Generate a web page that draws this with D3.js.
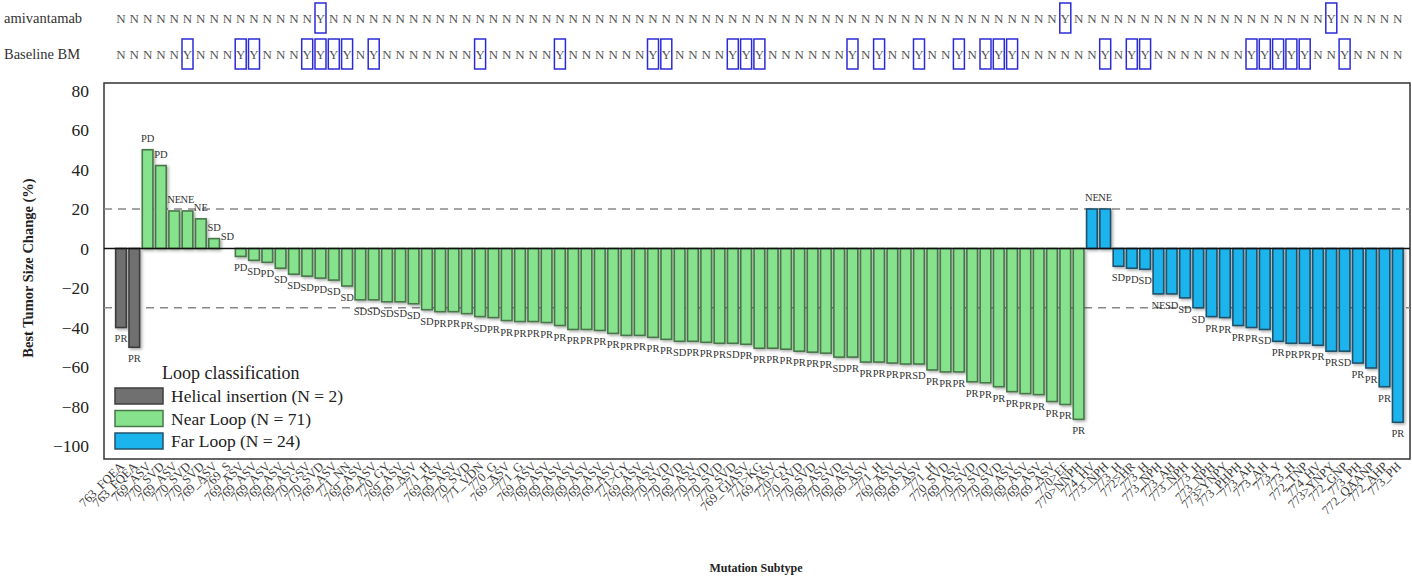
<!DOCTYPE html>
<html>
<head>
<meta charset="utf-8">
<script src="https://cdn.jsdelivr.net/npm/d3@7"></script>
<style>
  body { margin: 0; background: #fff; }
  svg { display: block; }
</style>
</head>
<body>
<svg id="chart" width="1412" height="584"></svg>
<script>
// Best tumour size change (%) per patient, grouped by loop classification
const helicalValues = [-40, -50];
const nearValues = [
  50, 42, 19, 19, 15, 5, 0, -4, -6, -7,
  -10, -13, -14, -15, -16, -19, -26, -26, -27, -27,
  -28, -31, -32, -32, -33, -34.5, -35, -36.5, -37, -37,
  -37.5, -39, -41, -41, -41.5, -43, -44, -44, -45, -46,
  -47, -47, -47.5, -48, -48, -48.5, -50.5, -50.5, -51, -52,
  -52.5, -53, -55, -55, -57.5, -57.5, -58, -58.5, -58.5, -61.5,
  -62.5, -62.5, -67.5, -68, -70, -72.5, -73.5, -74, -77.5, -79,
  -86.5
];
const farValues = [
  20, 20, -9, -10, -10.5, -23, -23, -25, -30, -34.5,
  -35, -39, -40, -41, -47, -48, -48, -49, -52, -52,
  -58, -60.5, -70, -88
];

// Best overall response for each bar
const responses = [
  "PR","PR","PD","PD","NE","NE","NE","SD","SD","PD",
  "SD","PD","SD","SD","SD","PD","SD","SD","SD","SD",
  "SD","SD","SD","SD","PR","PR","PR","SD","PR","PR",
  "PR","PR","PR","PR","PR","PR","PR","PR","PR","PR",
  "PR","PR","SD","PR","PR","PR","SD","PR","PR","PR",
  "PR","PR","PR","PR","SD","PR","PR","PR","PR","PR",
  "SD","PR","PR","PR","PR","PR","PR","PR","PR","PR",
  "PR","PR","PR","NE","NE","SD","PD","SD","NE","SD",
  "SD","SD","PR","PR","PR","PR","SD","PR","PR","PR",
  "PR","PR","SD","PR","PR","PR","PR"
];

// Mutation subtype for each bar
const mutations = [
  "763_FQEA","763_FQEA","769_ASV","770_SVD","769_ASV","770_SVD","770_SVD","769_ASV","769_S","769_ASV",
  "769_ASV","769_ASV","769_ASV","769_ASV","770_GSV","770_SVD","769_ASV","771_NN","769_ASV","769_ASV",
  "770_GY","769_ASV","769_ASV","771_H","769_ASV","769_ASV","770_SVD","771_VDN","770_G","769_ASV",
  "771_G","769_ASV","769_ASV","769_ASV","769_ASV","769_ASV","769_ASV","769_ASV","771>GY","769_ASV",
  "769_ASV","770_SVD","770_SVD","769_ASV","770_SVD","770_SVD","770_SVD","769_GIASV","771>KG","769_ASV",
  "770>GY","770_SVD","770_SVD","769_ASV","770_SVD","769_ASV","769_ASV","771_H","769_ASV","769_ASV",
  "769_ASV","771_H","770_SVD","769_ASV","770_SVD","770_SVD","770_SVD","769_ASV","769_ASV","769_ASV",
  "769_ASV","770>EF","770>NNPH","774_HV","773_NPH","773_H","772>HR","773_H","773_NPH","773_AH",
  "773_NPH","773_H","773_NPH","773>YNPY","773_PHPH","773_AH","773_AH","773_Y","773_H","772_TNP",
  "774_HV","773>YNPY","772_GNP","773_PH","772_QAANP","772_AHP","773_PH"
];

// Treatment / baseline brain metastasis flags per bar
const amivantamab = ("NNNNNNNNNN NNNNNYNNNN NNNNNNNNNN NNNNNNNNNN NNNNNNNNNN " +
                     "NNNNNNNNNN NNNNNNNNNN NYNNNNNNNN NNNNNNNNNN NYNNNNN").replace(/ /g, "").split("");
const baselineBM = ("NNNNNYNNNY YNNNYYYYNY NNNNNNNYNN NNNYNNNNNN YYNNNNYYYN " +
                    "NNNNNYNYNN YNNYNYYYNN NNNNYNYYNN NNNNNYYYYY NNYNNNN").replace(/ /g, "").split("");

const groups = [
  { key: "helical", name: "Helical insertion (N = 2)", values: helicalValues, fill: "#707070", stroke: "#3e3e3e" },
  { key: "near",    name: "Near Loop (N = 71)",        values: nearValues,    fill: "#86e28d", stroke: "#48774a" },
  { key: "far",     name: "Far Loop (N = 24)",         values: farValues,     fill: "#1bb4ec", stroke: "#235169" }
];
const yTicks = [80, 60, 40, 20, 0, -20, -40, -60, -80, -100];
const cutoffs = [20, -30];

const rows = [];
groups.forEach(g => g.values.forEach(v => rows.push({ value: v, group: g })));
rows.forEach((r, i) => { r.i = i; r.response = responses[i]; r.mutation = mutations[i]; });

const serif = "'Liberation Serif', 'Times New Roman', serif";
const svg = d3.select("#chart");

const frame = { left: 104, right: 1410, top: 83, bottom: 459 };

const x = d3.scaleBand()
  .domain(rows.map(r => r.i))
  .range([114.35, 1404.45])
  .paddingInner(0.2)
  .paddingOuter(0.1);
const cx = i => x(i) + x.bandwidth() / 2;

const y = d3.scaleLinear().domain([-106.6, 83.8]).range([frame.bottom, frame.top]);

// soft shadow under bars
const defs = svg.append("defs");
const f = defs.append("filter").attr("id", "shadow").attr("x", "-50%").attr("y", "-20%").attr("width", "200%").attr("height", "140%");
f.append("feDropShadow").attr("dx", 1.5).attr("dy", 1.5).attr("stdDeviation", 1.6)
  .attr("flood-color", "#000").attr("flood-opacity", 0.35);

// top annotation rows
const topRows = [
  { label: "amivantamab", flags: amivantamab, y: 18 },
  { label: "Baseline BM", flags: baselineBM, y: 54 }
];
topRows.forEach(tr => {
  const g = svg.append("g");
  g.append("text").attr("x", 4).attr("y", tr.y).attr("dy", "0.35em")
    .attr("font-family", serif).attr("font-size", 14.5).attr("fill", "#333").text(tr.label);
  g.selectAll("rect.flag").data(tr.flags.map((f, i) => ({ f, i })).filter(d => d.f === "Y"))
    .join("rect").attr("class", "flag")
    .attr("x", d => cx(d.i) - 5.5).attr("y", tr.y - 15).attr("width", 11).attr("height", 30)
    .attr("fill", "none").attr("stroke", "#2b2bd6").attr("stroke-width", 1.5);
  g.selectAll("text.flag").data(tr.flags.map((f, i) => ({ f, i })))
    .join("text").attr("class", "flag")
    .attr("x", d => cx(d.i)).attr("y", tr.y).attr("dy", "0.35em")
    .attr("text-anchor", "middle").attr("font-family", serif).attr("font-size", 13)
    .attr("fill", "#555").text(d => d.f);
});

// plot frame
svg.append("rect")
  .attr("x", frame.left).attr("y", frame.top)
  .attr("width", frame.right - frame.left).attr("height", frame.bottom - frame.top)
  .attr("fill", "none").attr("stroke", "#333").attr("stroke-width", 1.5);

// y axis
const yAxis = svg.append("g")
  .attr("transform", `translate(${frame.left},0)`)
  .call(d3.axisLeft(y).tickValues(yTicks).tickSize(0).tickPadding(15));
yAxis.attr("font-family", serif);
yAxis.select(".domain").remove();
yAxis.selectAll("text").attr("font-family", serif).attr("font-size", 17.5).attr("fill", "#222");

svg.append("text")
  .attr("transform", `translate(33,${(frame.top + frame.bottom) / 2 - 3}) rotate(-90)`)
  .attr("text-anchor", "middle").attr("font-family", serif).attr("font-weight", "bold")
  .attr("font-size", 14.5).attr("fill", "#222").text("Best Tumor Size Change (%)");

// response cut-off lines
svg.selectAll("line.cut").data(cutoffs).join("line").attr("class", "cut")
  .attr("x1", frame.left).attr("x2", frame.right)
  .attr("y1", d => y(d)).attr("y2", d => y(d))
  .attr("stroke", "#888").attr("stroke-width", 1.3).attr("stroke-dasharray", "8,6");

// bars
svg.append("g").attr("filter", "url(#shadow)")
  .selectAll("rect").data(rows).join("rect")
  .attr("x", d => x(d.i)).attr("width", x.bandwidth())
  .attr("y", d => y(Math.max(0, d.value)))
  .attr("height", d => Math.abs(y(d.value) - y(0)))
  .attr("fill", d => d.group.fill).attr("stroke", d => d.group.stroke).attr("stroke-width", 1.6);

// zero line
svg.append("line").attr("x1", frame.left).attr("x2", frame.right)
  .attr("y1", y(0)).attr("y2", y(0)).attr("stroke", "#111").attr("stroke-width", 1.5);

// response labels (above growing bars, below shrinking bars)
svg.append("g").selectAll("text").data(rows).join("text")
  .attr("x", d => cx(d.i))
  .attr("y", d => d.value >= 0 ? y(d.value) - 8 : y(d.value) + 15)
  .attr("text-anchor", "middle").attr("font-family", serif).attr("font-size", 10.5)
  .attr("fill", "#333").text(d => d.response);

// mutation subtype labels
svg.append("g").selectAll("text").data(rows).join("text")
  .attr("transform", d => `translate(${cx(d.i) + 4},${frame.bottom + 8}) rotate(-45)`)
  .attr("text-anchor", "end").attr("font-family", serif).attr("font-size", 12.5)
  .attr("fill", "#3a3a3a").text(d => d.mutation);

svg.append("text").attr("x", 756).attr("y", 572).attr("text-anchor", "middle")
  .attr("font-family", serif).attr("font-weight", "bold").attr("font-size", 12)
  .attr("fill", "#222").text("Mutation Subtype");

// legend
const legend = svg.append("g");
legend.append("text").attr("x", 162).attr("y", 379)
  .attr("font-family", serif).attr("font-size", 18).attr("fill", "#222").text("Loop classification");
const li = legend.selectAll("g.item").data(groups).join("g").attr("class", "item")
  .attr("transform", (d, i) => `translate(115,${388 + i * 22.5})`);
li.append("rect").attr("width", 48).attr("height", 16)
  .attr("fill", d => d.fill).attr("stroke", d => d.stroke).attr("stroke-width", 1.5);
li.append("text").attr("x", 56).attr("y", 8).attr("dy", "0.35em")
  .attr("font-family", serif).attr("font-size", 17.5).attr("fill", "#222").text(d => d.name);
</script>
</body>
</html>
